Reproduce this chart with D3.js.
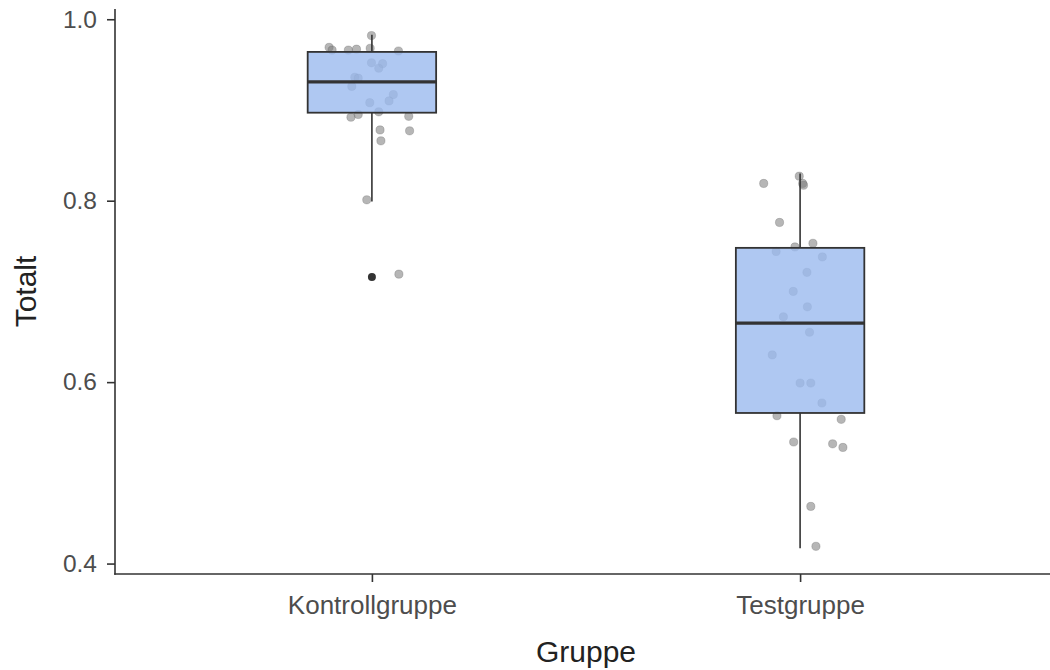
<!DOCTYPE html>
<html>
<head>
<meta charset="utf-8">
<script src="https://cdn.jsdelivr.net/npm/d3@7"></script>
<style>
  body { margin: 0; background: #fff; }
  svg  { display: block; font-family: "Liberation Sans", Arial, sans-serif; }
</style>
</head>
<body>
<div id="chart"></div>
<script>
// ─── Daten ────────────────────────────────────────────────────────────────────

const groups = ['Kontrollgruppe', 'Testgruppe'];
const yTicks = [0.4, 0.6, 0.8, 1.0];

// Boxplot-Kennwerte pro Gruppe
const whiskerLow  = [0.799, 0.417];
const q1          = [0.897, 0.566];
const median      = [0.931, 0.665];
const q3          = [0.964, 0.748];
const whiskerHigh = [0.983, 0.830];
const outliers    = [[0.716], []];

// Einzelwerte (Jitter) – Totalt und horizontale Verschiebung in Kategorie-Einheiten
const kontrollValues = [0.969, 0.966, 0.966, 0.967, 0.968, 0.982, 0.965, 0.952, 0.951, 0.946,
                        0.936, 0.935, 0.926, 0.917, 0.910, 0.908, 0.898, 0.895, 0.892, 0.893,
                        0.878, 0.877, 0.866, 0.801, 0.719];
const kontrollJitter = [-0.100, -0.093, -0.055, -0.036, -0.004, -0.001, 0.062, -0.001, 0.025, 0.016,
                        -0.040, -0.032, -0.047, 0.050, 0.040, -0.005, 0.016, -0.032, -0.049, 0.086,
                        0.019, 0.088, 0.021, -0.012, 0.063];

const testValues = [0.819, 0.827, 0.819, 0.817, 0.776, 0.749, 0.753, 0.744, 0.738, 0.721,
                    0.700, 0.683, 0.672, 0.655, 0.630, 0.599, 0.599, 0.577, 0.563, 0.559,
                    0.534, 0.532, 0.528, 0.463, 0.419];
const testJitter = [-0.085, -0.002, 0.006, 0.008, -0.048, -0.012, 0.030, -0.056, 0.052, 0.016,
                    -0.016, 0.017, -0.039, 0.022, -0.065, 0.000, 0.025, 0.051, -0.054, 0.096,
                    -0.015, 0.076, 0.100, 0.025, 0.037];

// ─── Layout ───────────────────────────────────────────────────────────────────

const width  = 1050;
const height = 670;
const panel  = { left: 115, right: 1057, top: 9, bottom: 574 };
const boxWidth = 0.3;   // in Kategorie-Einheiten

const svg = d3.select('#chart')
  .append('svg')
  .attr('width',  width)
  .attr('height', height);

// Skalen
const x = d3.scalePoint()
  .domain(groups)
  .range([panel.left, panel.right])
  .padding(0.6);

const step = x.step();

const y = d3.scaleLinear()
  .domain([0.3885, 1.0113])
  .range([panel.bottom, panel.top]);

// ─── Jitter-Punkte (liegen unter der Box) ─────────────────────────────────────

const points = [
  ...kontrollValues.map((v, i) => ({ group: groups[0], value: v, dx: kontrollJitter[i] })),
  ...testValues.map((v, i) => ({ group: groups[1], value: v, dx: testJitter[i] })),
];

svg.append('g')
  .selectAll('circle')
  .data(points)
  .enter()
  .append('circle')
  .attr('cx',             d => x(d.group) + d.dx * step)
  .attr('cy',             d => y(d.value))
  .attr('r',              4.1)
  .attr('fill',           '#7a7a7a')
  .attr('fill-opacity',   0.55)
  .attr('stroke',         '#555')
  .attr('stroke-opacity', 0.35)
  .attr('stroke-width',   0.8);

// ─── Boxplots ─────────────────────────────────────────────────────────────────

const boxes = groups.map((g, i) => ({
  group: g, lo: whiskerLow[i], q1: q1[i], med: median[i], q3: q3[i], hi: whiskerHigh[i], out: outliers[i],
}));

const box = svg.append('g')
  .selectAll('g')
  .data(boxes)
  .enter()
  .append('g');

const lineColor = '#333333';

// Whisker oben und unten
box.append('line')
  .attr('x1', d => x(d.group)).attr('x2', d => x(d.group))
  .attr('y1', d => y(d.q3)).attr('y2', d => y(d.hi))
  .attr('stroke', lineColor).attr('stroke-width', 1.6);

box.append('line')
  .attr('x1', d => x(d.group)).attr('x2', d => x(d.group))
  .attr('y1', d => y(d.q1)).attr('y2', d => y(d.lo))
  .attr('stroke', lineColor).attr('stroke-width', 1.6);

// Box
box.append('rect')
  .attr('x',      d => x(d.group) - boxWidth / 2 * step)
  .attr('y',      d => y(d.q3))
  .attr('width',  boxWidth * step)
  .attr('height', d => y(d.q1) - y(d.q3))
  .attr('fill',   '#9bbaef')
  .attr('fill-opacity', 0.8)
  .attr('stroke', lineColor)
  .attr('stroke-width', 1.8);

// Median
box.append('line')
  .attr('x1', d => x(d.group) - boxWidth / 2 * step)
  .attr('x2', d => x(d.group) + boxWidth / 2 * step)
  .attr('y1', d => y(d.med)).attr('y2', d => y(d.med))
  .attr('stroke', lineColor).attr('stroke-width', 3.4);

// Ausreißer
box.selectAll('circle.out')
  .data(d => d.out.map(v => ({ group: d.group, value: v })))
  .enter()
  .append('circle')
  .attr('class', 'out')
  .attr('cx',   d => x(d.group))
  .attr('cy',   d => y(d.value))
  .attr('r',    4)
  .attr('fill', lineColor);

// ─── Achsen ───────────────────────────────────────────────────────────────────

const yAxis = d3.axisLeft(y).tickValues(yTicks).tickFormat(d3.format('.1f')).tickSize(8).tickPadding(10);
const xAxis = d3.axisBottom(x).tickSize(8).tickPadding(6);

const gy = svg.append('g')
  .attr('transform', `translate(${panel.left}, 0)`)
  .call(yAxis);

const gx = svg.append('g')
  .attr('transform', `translate(0, ${panel.bottom})`)
  .call(xAxis);

[gx, gy].forEach(g => {
  g.select('.domain').remove();
  g.selectAll('.tick line').attr('stroke', lineColor).attr('stroke-width', 1.6);
  g.selectAll('.tick text')
    .attr('fill', '#4d4d4d')
    .style('font-family', '"Liberation Sans", Arial, sans-serif');
});

gy.selectAll('.tick text').style('font-size', '24.5px');
gx.selectAll('.tick text').style('font-size', '26px').attr('dy', '1em');

// Achsenlinien (theme_classic)
svg.append('line')
  .attr('x1', panel.left).attr('x2', panel.left)
  .attr('y1', panel.top).attr('y2', panel.bottom + 0.8)
  .attr('stroke', lineColor).attr('stroke-width', 1.6);

svg.append('line')
  .attr('x1', panel.left - 0.8).attr('x2', panel.right)
  .attr('y1', panel.bottom).attr('y2', panel.bottom)
  .attr('stroke', lineColor).attr('stroke-width', 1.6);

// Achsentitel
svg.append('text')
  .attr('x', (panel.left + panel.right) / 2)
  .attr('y', 662)
  .attr('text-anchor', 'middle')
  .style('font-size', '30px')
  .attr('fill', '#222')
  .text('Gruppe');

svg.append('text')
  .attr('transform', `translate(36, ${(panel.top + panel.bottom) / 2}) rotate(-90)`)
  .attr('text-anchor', 'middle')
  .style('font-size', '30px')
  .attr('fill', '#222')
  .text('Totalt');
</script>
</body>
</html>
